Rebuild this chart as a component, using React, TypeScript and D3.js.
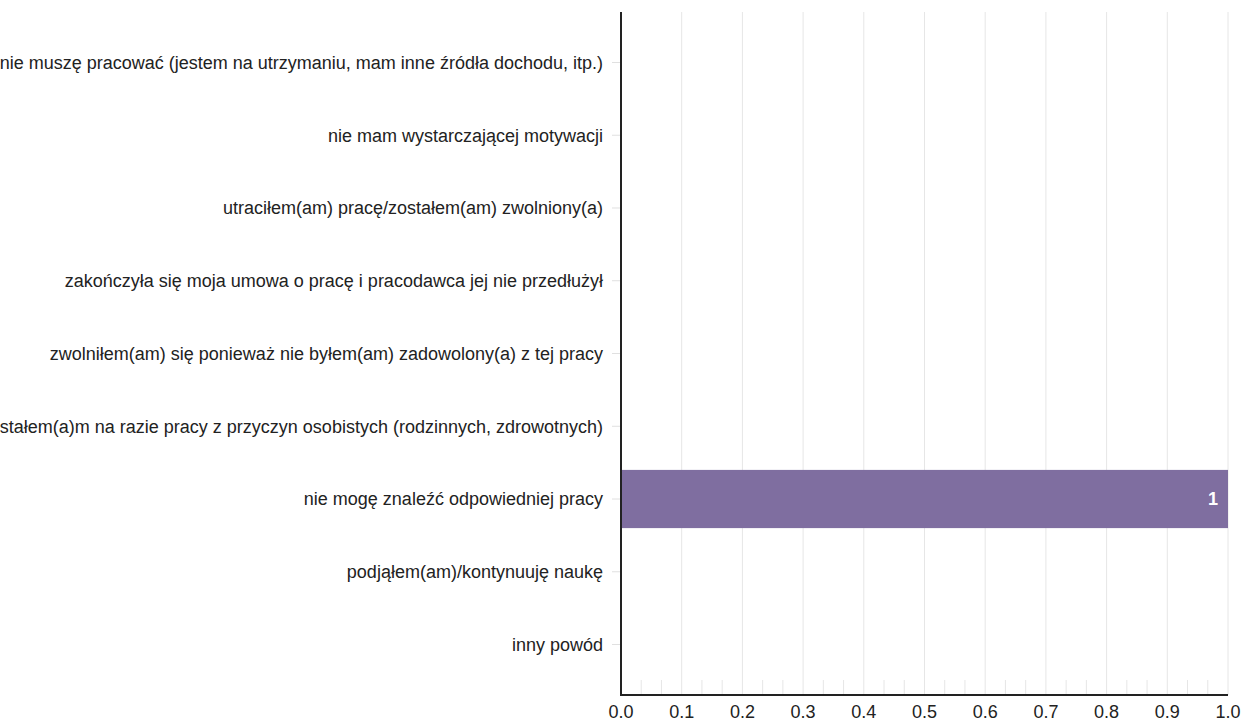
import React from "react";
import * as d3 from "d3";

const categories = [
  "nie muszę pracować (jestem na utrzymaniu, mam inne źródła dochodu, itp.)",
  "nie mam wystarczającej motywacji",
  "utraciłem(am) pracę/zostałem(am) zwolniony(a)",
  "zakończyła się moja umowa o pracę i pracodawca jej nie przedłużył",
  "zwolniłem(am) się ponieważ nie byłem(am) zadowolony(a) z tej pracy",
  "zaprzestałem(a)m na razie pracy z przyczyn osobistych (rodzinnych, zdrowotnych)",
  "nie mogę znaleźć odpowiedniej pracy",
  "podjąłem(am)/kontynuuję naukę",
  "inny powód",
];
const values = [0, 0, 0, 0, 0, 0, 1, 0, 0];
const xTicks = [0, 0.1, 0.2, 0.3, 0.4, 0.5, 0.6, 0.7, 0.8, 0.9, 1.0];

const W = 1242;
const H = 719;
const left = 621;
const right = 1228;
const top = 12;
const bottom = 695;

export default function App() {
  const x = d3.scaleLinear().domain([0, 1]).range([left, right]);
  const y = d3
    .scaleBand<string>()
    .domain(categories)
    .range([top, bottom])
    .paddingInner(0.2)
    .paddingOuter(0.294);
  const minor = d3.range(0, 30).map((i) => i / 30).filter((v) => Math.round(v * 30) % 3 !== 0);
  const font = "Arial, 'Liberation Sans', sans-serif";
  const fs = 18;
  return (
    <div style={{ position: "absolute", left: 0, top: 0 }}>
      <svg width={W} height={H} style={{ display: "block" }}>
        <rect width={W} height={H} fill="#fff" />
        {xTicks.slice(1).map((t) => (
          <line key={"g" + t} x1={x(t)} x2={x(t)} y1={top} y2={bottom} stroke="#e6e6e6" strokeWidth={1} />
        ))}
        {minor.map((t, i) => (
          <line key={"m" + i} x1={x(t)} x2={x(t)} y1={bottom - 15} y2={bottom} stroke="#e6e6e6" strokeWidth={1} />
        ))}
        {categories.map((c) => (
          <line
            key={"yt" + c}
            x1={left - 9}
            x2={left}
            y1={(y(c) as number) + y.bandwidth() / 2}
            y2={(y(c) as number) + y.bandwidth() / 2}
            stroke="#e0e0e0"
            strokeWidth={1}
          />
        ))}
        {categories.map((c, i) =>
          values[i] > 0 ? (
            <g key={"b" + c}>
              <rect
                x={x(0)}
                y={y(c) as number}
                width={x(values[i]) - x(0)}
                height={y.bandwidth()}
                fill="#7f6ea0"
              />
              <text
                x={x(values[i]) - 10}
                y={(y(c) as number) + y.bandwidth() / 2}
                dy="0.35em"
                textAnchor="end"
                fill="#fff"
                fontWeight="bold"
                fontSize={fs}
                fontFamily={font}
              >
                {values[i]}
              </text>
            </g>
          ) : null
        )}
        {categories.map((c) => (
          <text
            key={"l" + c}
            x={left - 18}
            y={(y(c) as number) + y.bandwidth() / 2}
            dy="0.35em"
            textAnchor="end"
            fill="#222"
            fontSize={fs}
            fontFamily={font}
          >
            {c}
          </text>
        ))}
        <line x1={left} x2={left} y1={top} y2={bottom + 1} stroke="#222" strokeWidth={2} />
        <line x1={left - 1} x2={right} y1={bottom} y2={bottom} stroke="#222" strokeWidth={2} />
        {xTicks.map((t) => (
          <text
            key={"xt" + t}
            x={x(t)}
            y={bottom + 23}
            textAnchor="middle"
            fill="#222"
            fontSize={fs}
            fontFamily={font}
          >
            {t.toFixed(1)}
          </text>
        ))}
      </svg>
    </div>
  );
}
